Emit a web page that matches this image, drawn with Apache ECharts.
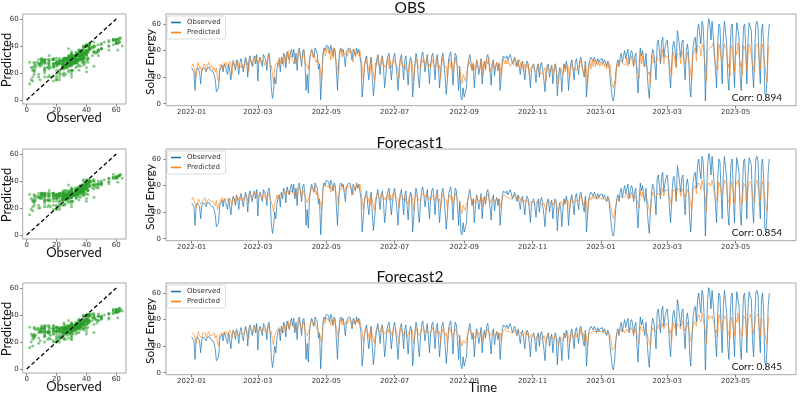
<!DOCTYPE html>
<html><head><meta charset="utf-8">
<script src="https://cdn.jsdelivr.net/npm/echarts@6/dist/echarts.min.js"></script>
<style>html,body{margin:0;padding:0;background:#fff}#c{width:800px;height:395px}</style>
</head><body><div id="c"></div>
<script>
// ---------------- data ----------------
const startDate = [2022, 1, 1];
const panelTitles = ['OBS', 'Forecast1', 'Forecast2'];
const corrValues = ['0.894', '0.854', '0.845'];
const timeTickLabels = ['2022-01','2022-03','2022-05','2022-07','2022-09','2022-11','2023-01','2023-03','2023-05'];
const solarTicks = [0, 20, 40, 60];
const scatterTicks = [0, 20, 40, 60];
const identityLine = [0, 60];

// daily observed solar energy, 2022-01-01 .. 2023-05-31
const observed = [
27,26,24,10,25,27,26,24,15,25,27,28,26,24,27,28,27,25,26,24,22,18,9,8,12,25,27,29,24,30,28,
29,22,30,31,18,28,32,30,25,33,29,22,31,34,33,24,30,35,32,20,33,36,35,28,34,36,30,37,
17,32,35,36,28,37,38,33,25,36,38,30,12,4,9,20,15,26,31,33,24,35,30,38,36,27,39,40,33,38,41,
35,41,30,38,25,40,42,36,28,39,41,33,10,22,8,30,38,41,40,35,42,41,38,26,30,3,20,38,42,40,
44,45,43,38,44,41,36,42,40,25,10,30,40,42,39,41,35,28,38,41,40,42,39,33,41,40,36,42,38,41,40,
30,5,15,28,33,36,25,18,30,35,20,6,14,26,33,37,30,22,34,36,28,12,20,32,36,38,29,18,27,35,
38,30,22,10,26,34,37,29,18,33,36,25,14,28,35,32,5,16,30,38,34,20,12,27,36,39,33,24,30,37,28,
15,29,36,38,30,18,33,37,26,12,24,35,38,31,20,7,18,33,37,39,28,14,30,38,36,24,10,28,5,3,12,
5,4,12,28,33,37,38,25,30,12,24,33,30,22,27,34,15,28,32,26,35,37,38,24,14,30,33,21,28,31,
25,30,10,22,33,36,35,34,36,33,35,37,34,30,33,35,32,28,33,34,22,30,32,25,18,28,32,30,22,12,26,
28,30,24,16,27,30,20,29,31,25,18,9,22,28,30,20,26,29,15,24,30,28,6,20,27,24,9,22,30,26,
32,27,10,22,30,33,26,18,31,34,28,22,33,35,30,24,20,32,5,18,30,33,35,34,32,35,33,30,34,31,33,
32,34,30,33,31,28,32,30,20,12,4,2,8,22,30,33,28,35,38,31,36,40,34,38,41,30,36,40,38,28,35,
38,20,8,30,42,36,40,33,28,38,25,12,4,20,35,41,38,30,18,45,48,40,30,47,50,35,42,46,
48,38,22,12,30,44,47,40,28,55,50,42,35,46,48,30,18,40,45,38,14,5,25,42,48,50,38,55,60,52,45,
62,58,40,2,30,55,64,60,48,62,63,40,25,12,45,60,58,35,15,50,62,61,45,20,10,40,58,60,30,12,
45,61,62,50,20,10,35,58,60,42,15,48,61,60,55,25,12,40,60,62,58,30,15,55,60,45,8,5,20,50,60
];

// predicted, OBS-driven model
const predOBS = [
28,30,27,26,20,29,31,26,28,24,27,30,28,25,29,31,27,26,29,25,27,24,27,19,17,26,30,28,25,31,28,
31,27,26,32,30,22,33,28,29,30,33,27,29,27,30,29,27,34,29,31,24,35,31,32,29,33,36,33,
30,29,35,31,32,33,29,29,31,32,37,27,29,22,15,28,27,31,28,35,30,32,34,28,37,31,35,40,30,38,35,
36,30,34,33,31,35,41,33,33,35,40,30,30,29,26,34,33,41,35,37,38,31,34,31,29,24,18,34,41,36,
39,43,38,40,33,41,34,42,36,31,30,22,37,41,35,40,37,38,39,36,41,38,40,33,31,41,35,39,40,36,40,
34,28,18,27,35,31,30,26,22,35,27,26,17,31,29,36,28,29,30,35,27,29,27,29,35,26,32,27,26,34,
32,33,29,29,19,34,31,32,27,30,25,26,24,31,30,33,27,17,28,34,30,28,28,26,34,31,33,29,28,35,27,
30,27,34,31,32,27,29,35,26,29,19,30,35,28,27,28,18,29,34,27,31,24,27,35,30,29,28,26,19,15,22,
22,17,23,26,33,30,28,25,31,28,24,33,27,28,26,33,29,21,32,25,33,30,35,24,27,27,32,26,26,31,
25,31,28,20,29,34,30,33,30,33,30,28,29,31,29,34,28,30,28,33,31,26,31,24,30,29,27,30,22,27,27,
29,26,27,24,24,30,25,25,22,23,25,27,17,29,26,26,24,29,23,23,30,25,24,15,24,27,25,22,30,24,
27,29,27,19,26,32,25,25,27,25,26,27,28,33,27,28,22,31,25,14,26,32,26,33,28,33,28,31,29,31,28,
32,29,31,28,31,26,32,27,29,20,14,12,17,15,30,28,29,33,31,31,30,29,29,35,28,31,30,36,31,29,33,
31,27,27,19,38,30,36,28,30,31,29,22,24,15,29,37,31,31,31,35,33,33,31,35,41,30,37,35,
36,36,29,30,21,39,36,37,27,37,38,38,30,40,37,32,30,33,39,32,30,22,18,38,37,42,32,44,44,43,36,
43,45,34,28,17,40,40,42,41,43,46,34,30,30,25,45,41,35,33,38,45,42,40,27,30,21,44,42,33,24,
40,37,46,38,28,31,22,44,42,39,25,37,45,42,43,30,29,24,44,43,45,33,26,40,45,36,30,21,16,38,44
];

// predicted, Forecast1-driven model
const predF1 = [
29,31,30,27,23,27,30,29,26,27,29,28,31,26,27,30,29,28,27,28,29,25,29,22,21,28,29,31,27,30,30,
30,29,28,31,31,25,31,30,27,33,31,29,31,30,28,31,29,33,31,30,27,34,33,30,31,35,33,35,
31,31,33,34,30,35,32,31,29,34,35,30,30,25,20,27,29,33,30,33,32,34,32,31,35,33,37,38,33,36,37,
35,33,32,35,30,37,39,35,31,37,38,32,31,27,28,32,35,39,37,35,40,33,36,30,31,27,22,36,39,38,
40,41,39,41,35,39,36,40,38,33,31,25,38,39,37,41,35,37,40,38,39,40,38,35,33,39,37,41,38,38,41,
35,30,22,29,33,34,31,28,25,33,29,28,21,30,31,35,30,31,32,34,29,31,29,31,34,29,33,29,28,35,
34,32,31,30,23,33,33,31,29,32,28,28,26,32,32,34,29,21,30,33,32,30,29,28,33,33,34,31,30,34,29,
31,29,33,33,31,29,31,34,28,30,22,31,34,30,29,29,22,31,33,30,32,26,29,34,32,30,29,28,22,19,25,
25,21,26,28,32,32,30,27,30,29,26,32,29,30,28,32,30,24,31,27,32,32,34,27,29,29,31,28,28,30,
28,30,29,23,31,33,32,32,32,31,32,30,31,30,31,33,30,29,30,32,30,28,30,27,29,30,29,29,25,28,28,
28,28,26,26,27,29,27,27,25,26,27,28,21,28,28,27,26,28,25,26,29,27,26,19,26,28,27,25,29,26,
29,30,28,22,28,31,27,27,29,28,28,29,30,32,29,29,25,30,27,19,28,31,29,32,30,32,30,31,30,32,30,
31,30,31,30,30,28,31,29,29,23,18,15,20,19,29,30,30,32,32,31,31,31,30,34,30,31,31,35,32,30,32,
32,29,28,23,36,32,35,30,31,32,30,25,26,19,31,35,33,32,31,34,35,34,32,35,38,32,36,36,
37,35,31,31,25,37,37,36,30,38,37,37,32,38,38,33,31,34,37,34,31,25,22,37,38,40,34,42,43,41,37,
44,45,35,30,21,39,42,43,40,44,45,35,31,31,28,43,42,36,33,38,44,43,40,30,31,25,43,42,34,27,
40,39,44,39,30,31,26,42,43,39,28,38,43,43,42,32,30,27,42,44,43,34,29,40,43,37,31,24,21,38,43
];

// predicted, Forecast2-driven model
const predF2 = [
30,30,29,28,22,28,31,28,27,26,30,29,30,27,28,31,28,29,28,27,30,26,28,23,20,29,30,30,28,31,29,
31,28,29,32,30,26,32,29,28,32,32,28,30,31,29,30,30,34,30,31,26,35,32,31,30,34,34,34,
30,32,34,33,31,34,33,30,30,33,36,29,31,24,21,28,28,32,31,34,31,33,33,30,36,32,36,39,32,37,36,
36,34,33,34,31,36,40,34,32,36,39,31,32,28,27,33,34,40,36,36,39,34,35,31,30,26,23,35,40,37,
41,40,40,40,36,40,35,41,37,34,30,26,37,40,36,40,36,36,39,37,40,39,39,34,34,40,36,40,39,37,40,
34,31,23,28,34,33,30,29,24,34,28,29,22,31,30,34,31,30,31,35,28,30,30,30,33,30,32,30,27,34,
33,33,30,31,22,34,32,32,28,31,29,27,27,31,31,33,30,22,29,34,31,31,28,29,32,32,33,30,31,33,30,
30,30,32,34,30,30,30,33,29,31,23,30,33,31,28,30,21,30,34,31,31,27,28,33,31,31,28,29,23,20,24,
24,22,25,29,31,33,29,28,29,30,25,31,30,29,29,31,31,23,30,28,31,33,33,28,28,30,30,29,27,31,
29,29,30,24,30,32,31,33,31,32,31,31,30,31,30,32,31,28,31,31,31,29,29,28,28,31,28,30,26,27,29,
29,27,27,25,28,28,28,26,26,25,28,27,22,27,29,26,27,27,26,25,28,28,25,20,25,27,28,24,28,27,
28,31,27,23,27,30,28,26,30,27,29,28,29,33,28,30,24,31,26,20,29,30,30,31,31,31,31,30,31,31,31,
30,31,30,31,29,29,30,30,28,24,17,16,19,20,30,29,31,31,33,30,32,30,31,33,31,30,32,34,33,29,31,
33,28,29,22,35,33,34,31,30,33,29,26,25,20,30,34,34,31,32,33,36,33,33,34,37,33,35,37,
36,36,30,32,24,38,36,37,31,37,38,36,33,37,39,32,32,33,38,33,32,24,23,36,39,39,35,41,44,40,38,
45,44,36,31,22,38,43,42,41,43,44,36,30,32,27,44,41,37,32,39,43,44,39,31,30,26,42,43,33,28,
41,38,45,38,31,30,27,43,42,40,27,39,42,44,41,33,29,28,43,43,44,33,28,41,42,38,30,25,22,37,42
];

// ---------------- chart ----------------
const predictions = [predOBS, predF1, predF2];
predictions.forEach((p, i) => {
  if (p.length !== observed.length) throw new Error('length mismatch in series ' + i + ': ' + p.length + ' vs ' + observed.length);
});
const dayMs = 86400000;
const t0 = Date.UTC(startDate[0], startDate[1] - 1, startDate[2]);
const tickDays = timeTickLabels.map(s => Math.round((Date.UTC(+s.slice(0, 4), +s.slice(5, 7) - 1, 1) - t0) / dayMs));

const rowTop = [0, 135, 269];
const BLUE = '#1f77b4', ORANGE = '#ff7f0e';
const BOX = '#a8a8a8';
const tickFont = 'DejaVu Sans';
const labelFont = 'Lato, "Open Sans", sans-serif';

const grids = [], xAxes = [], yAxes = [], series = [], legends = [], graphics = [];

function valueAxis(extra, margin) {
  return Object.assign({
    type: 'value',
    axisLine: { show: false, onZero: false },
    splitLine: { show: false },
    axisTick: { show: true, length: 2.5, lineStyle: { color: '#555', width: 0.8 } },
    axisLabel: { fontSize: 7, color: '#333', margin: margin, fontFamily: tickFont, showMinLabel: true, showMaxLabel: true }
  }, extra);
}

predictions.forEach((pred, r) => {
  const dy = rowTop[r];
  // scatter panel: grid spans the 0..60 data range, frame drawn separately
  grids.push({ left: 26.7, top: 19 + dy, width: 89.6, height: 81 });
  // time-series panel: grid spans 0..60 vertically
  grids.push({ left: 166, top: 24 + dy, width: 630, height: 79.7 });

  xAxes.push(valueAxis({ gridIndex: 2 * r, min: 0, max: 60, interval: 20, offset: 4 }, 3));
  yAxes.push(valueAxis({ gridIndex: 2 * r, min: 0, max: 60, interval: 20, offset: 4 }, 4));

  const xTs = valueAxis({ gridIndex: 2 * r + 1, min: -22.9, max: 538.8, offset: 2 }, 3);
  xTs.axisLabel.customValues = tickDays;
  xTs.axisTick.customValues = tickDays;
  xTs.axisLabel.formatter = v => timeTickLabels[tickDays.indexOf(Math.round(v))] || '';
  xAxes.push(xTs);
  yAxes.push(valueAxis({ gridIndex: 2 * r + 1, min: 0, max: 60, interval: 20 }, 5));

  series.push({
    name: 'scatter' + r, type: 'scatter', xAxisIndex: 2 * r, yAxisIndex: 2 * r, clip: false,
    symbolSize: 3, itemStyle: { color: '#2ca02c', opacity: 0.55 },
    data: observed.map((o, i) => [o, pred[i]]), silent: true
  });
  series.push({
    name: 'identity' + r, type: 'line', xAxisIndex: 2 * r, yAxisIndex: 2 * r, clip: false,
    showSymbol: false, silent: true,
    lineStyle: { color: '#000', width: 1.3, type: [4, 2.5] },
    data: identityLine.map(v => [v, v])
  });
  series.push({
    name: 'Observed', type: 'line', xAxisIndex: 2 * r + 1, yAxisIndex: 2 * r + 1, clip: false,
    showSymbol: false, silent: true, sampling: null, color: BLUE,
    lineStyle: { color: BLUE, width: 0.85, opacity: 0.85 },
    data: observed.map((v, i) => [i, v])
  });
  series.push({
    name: 'Predicted', type: 'line', xAxisIndex: 2 * r + 1, yAxisIndex: 2 * r + 1, clip: false,
    showSymbol: false, silent: true, sampling: null, color: ORANGE,
    lineStyle: { color: ORANGE, width: 0.85, opacity: 0.72 },
    data: pred.map((v, i) => [i, v])
  });

  legends.push({
    data: ['Observed', 'Predicted'], orient: 'vertical', left: 167, top: 16 + dy,
    itemWidth: 10, itemHeight: 1.6, itemGap: 3, icon: 'rect', selectedMode: false,
    padding: [3, 5, 3, 4], borderColor: '#d0d0d0', borderWidth: 0.8, borderRadius: 2,
    backgroundColor: '#fff',
    textStyle: { fontSize: 7, color: '#333', fontFamily: tickFont, padding: [0, 0, 0, 1] }
  });

  // frames
  graphics.push({ type: 'rect', silent: true, z: 10,
    shape: { x: 22.7, y: 14 + dy, width: 103.3, height: 90 },
    style: { fill: 'none', stroke: BOX, lineWidth: 1 } });
  graphics.push({ type: 'rect', silent: true, z: 10,
    shape: { x: 166, y: 14 + dy, width: 630, height: 91.7 },
    style: { fill: 'none', stroke: BOX, lineWidth: 1 } });

  const txt = (x, y, text, size, opts) => Object.assign({
    type: 'text', x: x, y: y, silent: true,
    style: { text: text, font: size + 'px ' + labelFont, fill: '#111', align: 'center', verticalAlign: 'middle' }
  }, opts || {});

  graphics.push(txt(410, 8 + dy, panelTitles[r], 15.5));
  graphics.push(txt(7, 60 + dy, 'Predicted', 13, { rotation: Math.PI / 2 }));
  graphics.push(txt(74, 118 + dy, 'Observed', 13));
  graphics.push(txt(150, 62 + dy, 'Solar Energy', 12, { rotation: Math.PI / 2 }));
  const c = txt(782, 98 + dy, 'Corr: ' + corrValues[r], 10);
  c.style.align = 'right';
  graphics.push(c);
});
graphics.push({ type: 'text', x: 483, y: 388, silent: true,
  style: { text: 'Time', font: '13px ' + labelFont, fill: '#111', align: 'center', verticalAlign: 'middle' } });

const chart = echarts.init(document.getElementById('c'), null, { renderer: 'canvas' });
chart.setOption({
  animation: false,
  backgroundColor: '#fff',
  grid: grids, xAxis: xAxes, yAxis: yAxes,
  legend: legends, series: series, graphic: graphics
});
</script>
</body></html>
